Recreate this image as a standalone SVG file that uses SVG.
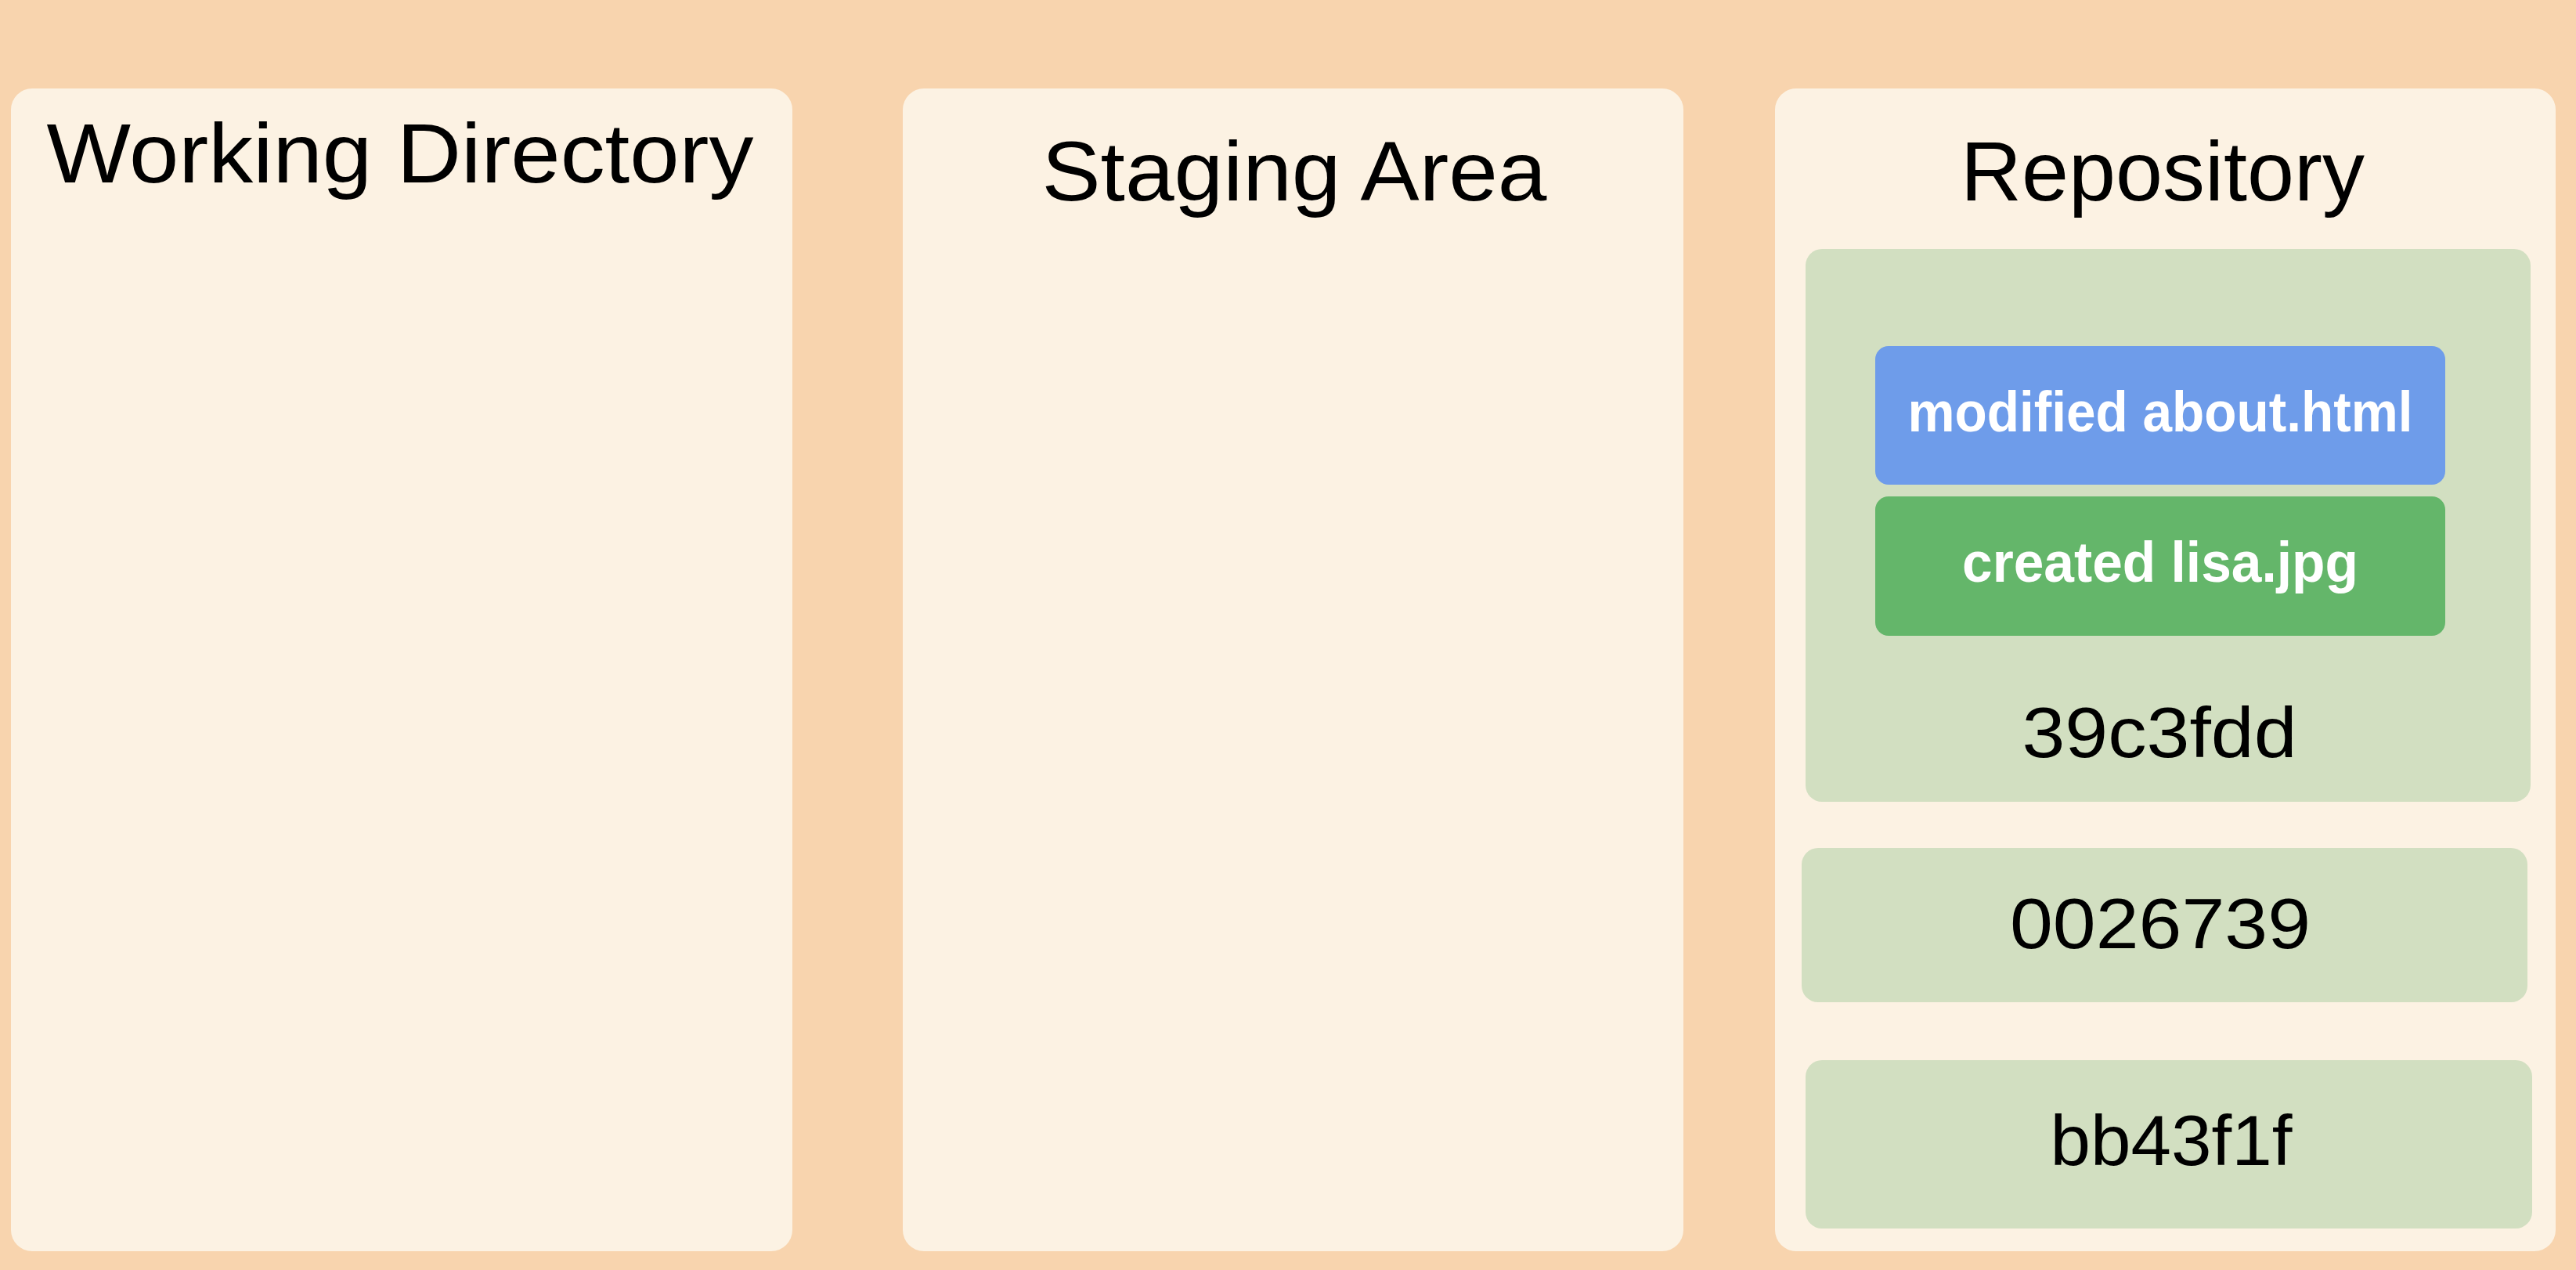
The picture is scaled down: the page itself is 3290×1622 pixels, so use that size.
<svg xmlns="http://www.w3.org/2000/svg" width="3290" height="1622" viewBox="0 0 3290 1622">
<style>
.panel{fill:#FCF2E3}
.commit{fill:#D2DFC1}
.title{font-family:"Liberation Sans",Arial,sans-serif;font-size:107px;fill:#000;text-anchor:middle}
.hash{font-family:"Liberation Sans",Arial,sans-serif;font-size:91px;fill:#000;text-anchor:middle}
.chg{font-family:"Liberation Sans",Arial,sans-serif;font-size:72px;font-weight:bold;fill:#fff;text-anchor:middle}
</style>
<rect x="0" y="0" width="3290" height="1622" fill="#F8D4AE"/>
<g id="working-directory">
<rect class="panel" x="14" y="113" width="998" height="1485" rx="27"/>
<text class="title" x="511" y="233" textLength="903" lengthAdjust="spacingAndGlyphs">Working Directory</text>
</g>
<g id="staging-area">
<rect class="panel" x="1153" y="113" width="997" height="1485" rx="27"/>
<text class="title" x="1653" y="256" textLength="645" lengthAdjust="spacingAndGlyphs">Staging Area</text>
</g>
<g id="repository">
<rect class="panel" x="2267" y="113" width="997" height="1485" rx="27"/>
<text class="title" x="2762" y="256" textLength="516" lengthAdjust="spacingAndGlyphs">Repository</text>
</g>
<g id="commit-39c3fdd">
<rect class="commit" x="2306" y="318" width="926" height="706" rx="21"/>
<g id="change-modified-about">
<rect x="2395" y="442" width="728" height="177" rx="17" fill="#6E9CEA"/>
<text class="chg" x="2759" y="551" textLength="645" lengthAdjust="spacingAndGlyphs">modified about.html</text>
</g>
<g id="change-created-lisa">
<rect x="2395" y="634" width="728" height="178" rx="17" fill="#64B66A"/>
<text class="chg" x="2759" y="743" textLength="506" lengthAdjust="spacingAndGlyphs">created lisa.jpg</text>
</g>
<text class="hash" x="2758" y="967" textLength="351" lengthAdjust="spacingAndGlyphs">39c3fdd</text>
</g>
<g id="commit-0026739">
<rect class="commit" x="2301" y="1083" width="927" height="197" rx="21"/>
<text class="hash" x="2759" y="1211" textLength="384" lengthAdjust="spacingAndGlyphs">0026739</text>
</g>
<g id="commit-bb43f1f">
<rect class="commit" x="2306" y="1354" width="928" height="215" rx="21"/>
<text class="hash" x="2773" y="1488" textLength="309" lengthAdjust="spacingAndGlyphs">bb43f1f</text>
</g>
<g id="connectors"/>
</svg>
